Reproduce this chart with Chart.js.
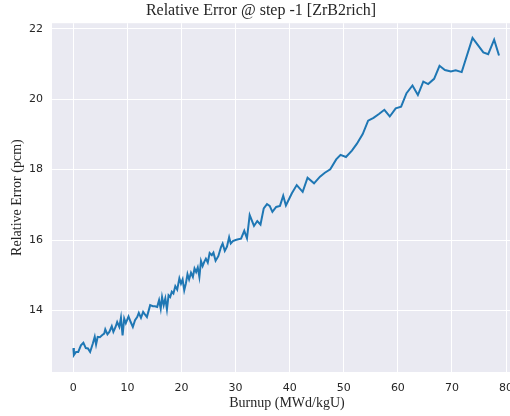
<!DOCTYPE html>
<html>
<head>
<meta charset="utf-8">
<script src="https://cdn.jsdelivr.net/npm/chart.js@4.4.1/dist/chart.umd.min.js"></script>
<style>
html, body { margin:0; padding:0; background:#fff; overflow:hidden; }
#wrap { width:510px; height:416px; overflow:hidden; }
</style>
</head>
<body>
<div id="wrap"><canvas id="errChart" width="524" height="416"></canvas></div>
<script>
// relative error vs burnup, last step
const burnup = [0, 0.1, 0.5, 0.9, 1.4, 1.85, 2.3, 2.7, 3.1, 3.6, 3.95, 4.2, 4.5, 4.9, 5.35, 5.7, 5.9, 6.3, 6.65, 7.1,
  7.4, 7.8, 8.1, 8.5, 8.8, 9.1, 9.4, 9.7, 10.2, 10.6, 11.0, 11.4, 11.8, 12.1, 12.5, 12.9, 13.3, 13.6, 14.2, 14.7,
  15.1, 15.5, 15.85, 16.15, 16.4, 16.7, 17.0, 17.3, 17.6, 17.9, 18.2, 18.5, 18.85, 19.2, 19.6, 19.9, 20.2, 20.5, 20.8, 21.1,
  21.4, 21.75, 22.1, 22.4, 22.7, 23.0, 23.3, 23.6, 23.9, 24.2, 24.5, 24.85, 25.2, 25.6, 25.9, 26.3, 26.8, 27.3, 27.6, 28.0,
  28.4, 28.8, 29.1, 29.5, 30.0, 30.5, 31.0, 31.6, 32.1, 32.6, 33.4, 34.0, 34.6, 35.2, 35.8, 36.3, 36.8, 37.5, 38.2, 38.8,
  39.3, 40.4, 41.3, 42.4, 43.3, 44.5, 45.6, 46.5, 47.5, 48.6, 49.4, 50.4, 51.5, 52.4, 53.5, 54.5, 55.5, 56.5, 57.5, 58.5,
  59.6, 60.6, 61.6, 62.7, 63.7, 64.7, 65.6, 66.7, 67.7, 68.7, 69.8, 70.7, 71.8, 73.8, 75.8, 76.7, 77.8, 78.7];

const relErr = [12.93, 12.73, 12.82, 12.82, 13.01, 13.08, 12.93, 12.92, 12.82, 13.06, 13.25, 13.03, 13.25, 13.24, 13.30, 13.34, 13.46, 13.32, 13.39, 13.55,
  13.39, 13.53, 13.67, 13.53, 13.79, 13.29, 13.77, 13.64, 13.83, 13.67, 13.53, 13.72, 13.81, 13.93, 13.79, 13.96, 13.87, 13.81, 14.15, 14.12,
  14.12, 14.10, 14.29, 14.05, 14.38, 14.15, 14.34, 14.03, 14.43, 14.38, 14.53, 14.48, 14.69, 14.59, 14.91, 14.76, 14.88, 14.57, 14.76, 15.03,
  14.88, 15.07, 14.95, 15.19, 15.09, 15.22, 14.95, 15.40, 15.26, 15.38, 15.47, 15.36, 15.63, 15.57, 15.64, 15.41, 15.54, 15.80, 15.90, 15.69,
  15.81, 16.08, 15.90, 15.97, 16.00, 16.02, 16.04, 16.26, 16.05, 16.71, 16.40, 16.54, 16.44, 16.90, 17.02, 16.97, 16.80, 16.94, 16.97, 17.26,
  16.98, 17.33, 17.56, 17.37, 17.77, 17.61, 17.80, 17.91, 18.01, 18.29, 18.42, 18.36, 18.54, 18.73, 19.01, 19.39, 19.47, 19.58, 19.70, 19.51,
  19.74, 19.79, 20.17, 20.39, 20.12, 20.50, 20.43, 20.58, 20.95, 20.83, 20.79, 20.82, 20.77, 21.74, 21.33, 21.28, 21.69, 21.24];

const xTicks = [0, 10, 20, 30, 40, 50, 60, 70, 80];
const yTicks = [14, 16, 18, 20, 22];

const serif = "'Liberation Serif', 'DejaVu Serif', serif";
const sans = "'DejaVu Sans', sans-serif";
const ink = "#262626";

// grey panel behind the grid
const panelBg = {
  id: "panelBg",
  beforeDraw(chart) {
    const a = chart.chartArea;
    const ctx = chart.ctx;
    ctx.save();
    ctx.fillStyle = "#EAEAF2";
    ctx.fillRect(a.left, a.top, a.right - a.left, a.bottom - a.top);
    ctx.restore();
  }
};

new Chart(document.getElementById("errChart"), {
  type: "line",
  data: {
    datasets: [{
      data: burnup.map((b, i) => ({ x: b, y: relErr[i] })),
      borderColor: "#1f77b4",
      borderWidth: 2,
      pointRadius: 0,
      tension: 0,
      fill: false
    }]
  },
  options: {
    responsive: false,
    animation: false,
    layout: { padding: { left: 0, right: 2, top: 0, bottom: 0 } },
    plugins: {
      legend: { display: false },
      tooltip: { enabled: false },
      title: {
        display: true,
        text: "Relative Error @ step -1 [ZrB2rich]",
        color: ink,
        font: { family: serif, size: 16, weight: "normal" },
        padding: { top: 1, bottom: 3 }
      }
    },
    scales: {
      x: {
        type: "linear",
        min: -3.95,
        max: 82.95,
        afterBuildTicks: s => { s.ticks = xTicks.map(v => ({ value: v })); },
        afterFit: s => { s.height = 44; },
        grid: { color: "#ffffff", lineWidth: 1, drawTicks: false },
        border: { display: false },
        ticks: { color: ink, font: { family: sans, size: 11 }, padding: 10, maxRotation: 0 },
        title: {
          display: true,
          text: "Burnup (MWd/kgU)",
          color: ink,
          font: { family: serif, size: 14 },
          padding: { top: 2, bottom: 4 }
        }
      },
      y: {
        min: 12.25,
        max: 22.16,
        afterBuildTicks: s => { s.ticks = yTicks.map(v => ({ value: v })); },
        afterFit: s => { s.width = 52; },
        grid: { color: "#ffffff", lineWidth: 1, drawTicks: false },
        border: { display: false },
        ticks: { color: ink, font: { family: sans, size: 11 }, padding: 9 },
        title: {
          display: true,
          text: "Relative Error (pcm)",
          color: ink,
          font: { family: serif, size: 14 },
          padding: { top: 9, bottom: 2 }
        }
      }
    }
  },
  plugins: [panelBg]
});
</script>
</body>
</html>
